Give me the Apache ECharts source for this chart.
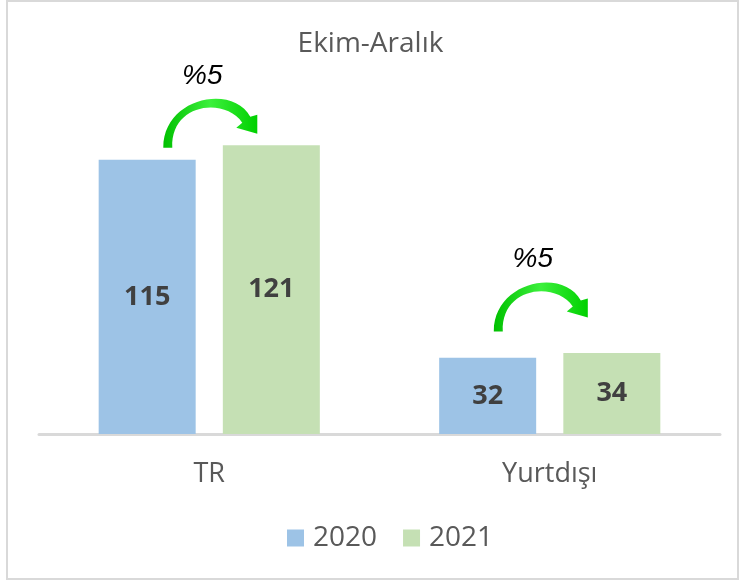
<!DOCTYPE html>
<html>
<head>
<meta charset="utf-8">
<script src="https://cdn.jsdelivr.net/npm/echarts@6/dist/echarts.min.js"></script>
<style>
  html, body { margin: 0; padding: 0; background: #fff; }
  #wrap { position: relative; width: 741px; height: 584px; }
  #chart { position: absolute; left: 0; top: 0; width: 741px; height: 584px; }
  #frame { position: absolute; left: 6px; top: 0px; width: 729px; height: 576px; border: 2px solid #d9d9d9; pointer-events: none; }
</style>
</head>
<body>
<div id="wrap">
  <div id="chart"></div>
  <div id="frame"></div>
</div>
<script>
const titleText = 'Ekim-Aralık';
const categories = ['TR', 'Yurtdışı'];
const seriesNames = ['2020', '2021'];
const values2020 = [115, 32];
const values2021 = [121, 34];
const growthLabels = ['%5', '%5'];
const arrowLevels = [120, 43];

const COLORS = ['#9dc3e6', '#c5e0b4'];
const FONT = '"Open Sans", "Noto Sans", sans-serif';
// small horizontal nudges for the growth arrows (px)
const arrowShift = [0, -10];

const chart = echarts.init(document.getElementById('chart'), null, { renderer: 'canvas' });

function arrowPath(ax, ay) {
  const P = (dx, dy) => (ax + dx).toFixed(1) + ' ' + (ay + dy).toFixed(1);
  return 'M ' + P(-46, 0) +
    ' C ' + P(-46, -50) + ' ' + P(23, -64) + ' ' + P(41, -31) +
    ' L ' + P(48, -33) +
    ' L ' + P(48, -14) +
    ' L ' + P(27, -20) +
    ' L ' + P(33, -25) +
    ' C ' + P(15, -51) + ' ' + P(-39, -44) + ' ' + P(-37, 0) +
    ' Z';
}

const barLabel = {
  show: true,
  position: 'inside',
  color: '#404040',
  fontFamily: FONT,
  fontWeight: 'bold',
  fontSize: 27
};

const option = {
  animation: false,
  backgroundColor: '#ffffff',
  title: {
    text: titleText,
    left: 'center',
    top: 25,
    textStyle: { fontFamily: FONT, fontSize: 28, fontWeight: 'normal', color: '#595959' }
  },
  legend: {
    data: seriesNames,
    bottom: 27,
    left: 282,
    icon: 'rect',
    itemWidth: 17,
    itemHeight: 17,
    itemGap: 26,
    textStyle: { fontFamily: FONT, fontSize: 28, color: '#595959', padding: [0, 0, 0, 4] }
  },
  grid: { left: 39, right: 21, top: 100, bottom: 150 },
  xAxis: {
    type: 'category',
    data: categories,
    axisLine: { show: true, lineStyle: { color: '#d9d9d9', width: 3 } },
    axisTick: { show: false },
    axisLabel: { fontFamily: FONT, fontSize: 27, color: '#595959', margin: 27 }
  },
  yAxis: {
    type: 'value',
    min: 0,
    max: 140,
    show: false,
    splitLine: { show: false }
  },
  series: [
    {
      name: seriesNames[0],
      type: 'bar',
      data: values2020,
      barWidth: 97,
      barGap: '28%',
      itemStyle: { color: COLORS[0] },
      label: barLabel
    },
    {
      name: seriesNames[1],
      type: 'bar',
      data: values2021,
      barWidth: 97,
      barGap: '28%',
      itemStyle: { color: COLORS[1] },
      label: barLabel
    },
    {
      type: 'custom',
      silent: true,
      z: 10,
      data: categories.map((c, i) => [i, arrowLevels[i], growthLabels[i]]),
      renderItem: function (params, api) {
        const i = params.dataIndex;
        const p = api.coord([api.value(0), api.value(1)]);
        const ax = p[0] + arrowShift[i];
        const ay = p[1];
        return {
          type: 'group',
          children: [
            {
              type: 'path',
              shape: { pathData: arrowPath(ax, ay) },
              style: {
                fill: new echarts.graphic.LinearGradient(0, 0, 1, 0, [
                  { offset: 0, color: '#00c000' },
                  { offset: 0.5, color: '#3cf03c' },
                  { offset: 1, color: '#00d000' }
                ]),
                stroke: null
              }
            },
            {
              type: 'text',
              style: {
                text: growthLabels[i],
                x: ax - 7,
                y: ay - 72,
                align: 'center',
                verticalAlign: 'middle',
                fontFamily: '"Liberation Sans", Arial, sans-serif',
                fontStyle: 'italic',
                fontSize: 28,
                fill: '#000000'
              }
            }
          ]
        };
      }
    }
  ]
};

chart.setOption(option);
</script>
</body>
</html>
